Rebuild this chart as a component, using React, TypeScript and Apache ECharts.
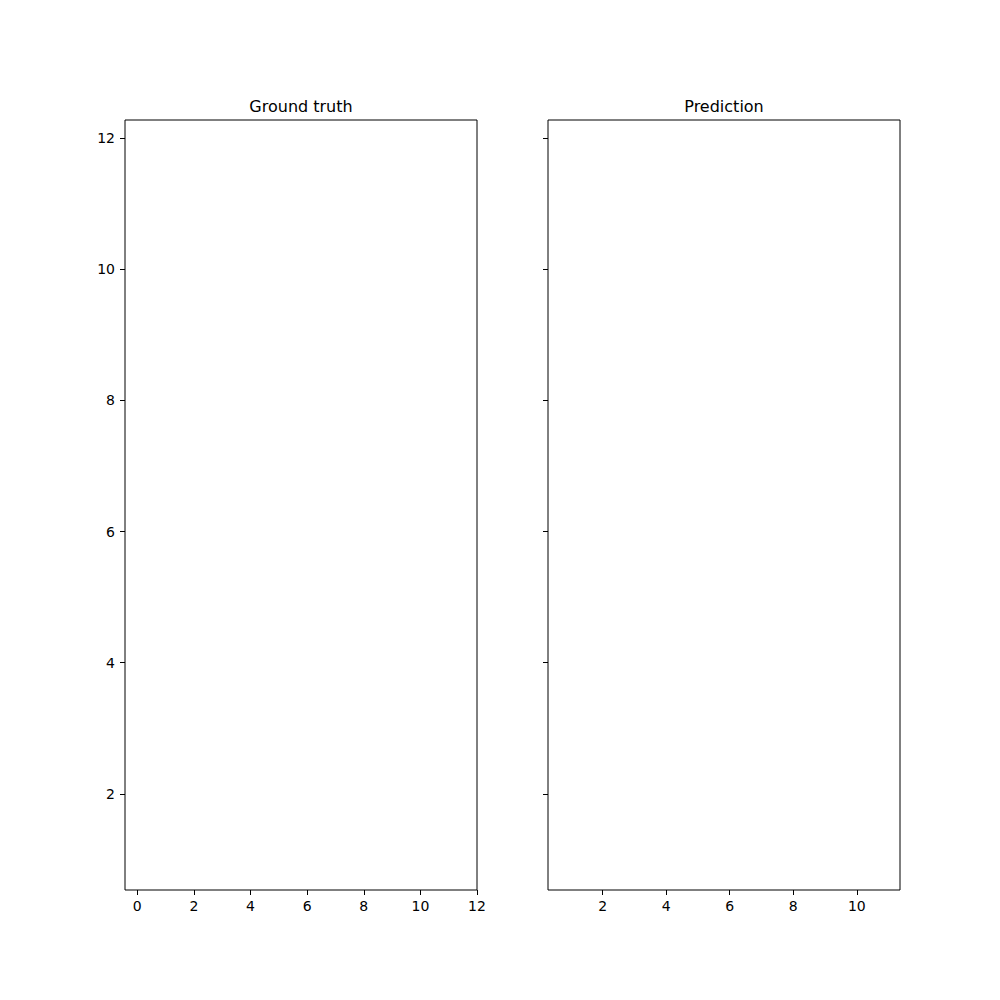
import React, { useEffect, useRef } from "react";
import * as echarts from "echarts";

const leftXTicks = [0, 2, 4, 6, 8, 10, 12];
const rightXTicks = [2, 4, 6, 8, 10];
const yTicks = [2, 4, 6, 8, 10, 12];
const leftXRange = [-0.435, 12];
const rightXRange = [0.28, 11.36];
const yRange = [0.535, 12.275];
const titles = ["Ground truth", "Prediction"];
const groundTruthPoints: number[][] = [];
const predictionPoints: number[][] = [];

const FONT = "DejaVu Sans";

function xAxis(gridIndex: number, range: number[], ticks: number[]) {
  return {
    type: "value",
    gridIndex,
    min: range[0],
    max: range[1],
    splitLine: { show: false },
    axisLine: { show: false, onZero: false },
    axisTick: {
      show: true,
      length: 5,
      inside: false,
      customValues: ticks,
      lineStyle: { color: "#000", width: 1 },
    },
    axisLabel: {
      show: true,
      customValues: ticks,
      margin: 9,
      color: "#000",
      fontFamily: FONT,
      fontSize: 14,
    },
  };
}

function yAxis(gridIndex: number, showLabels: boolean) {
  return {
    type: "value",
    gridIndex,
    min: yRange[0],
    max: yRange[1],
    splitLine: { show: false },
    axisLine: { show: false, onZero: false },
    axisTick: {
      show: true,
      length: 5,
      inside: false,
      customValues: yTicks,
      lineStyle: { color: "#000", width: 1 },
    },
    axisLabel: {
      show: showLabels,
      customValues: yTicks,
      margin: 10,
      color: "#000",
      fontFamily: FONT,
      fontSize: 14,
    },
  };
}

export default function App() {
  const ref = useRef<HTMLDivElement>(null);
  useEffect(() => {
    if (!ref.current) return;
    const chart = echarts.init(ref.current, undefined, { renderer: "svg" });
    chart.setOption({
      animation: false,
      backgroundColor: "#fff",
      grid: [
        { left: 125, top: 120, width: 352, height: 770, show: true, borderColor: "#000", borderWidth: 1, backgroundColor: "transparent" },
        { left: 548, top: 120, width: 352, height: 770, show: true, borderColor: "#000", borderWidth: 1, backgroundColor: "transparent" },
      ],
      xAxis: [xAxis(0, leftXRange, leftXTicks), xAxis(1, rightXRange, rightXTicks)],
      yAxis: [yAxis(0, true), yAxis(1, false)],
      graphic: [
        {
          type: "text",
          x: 301,
          y: 114,
          style: { text: titles[0], textAlign: "center", textVerticalAlign: "bottom", fontFamily: FONT, fontSize: 16, fill: "#000" },
        },
        {
          type: "text",
          x: 724,
          y: 114,
          style: { text: titles[1], textAlign: "center", textVerticalAlign: "bottom", fontFamily: FONT, fontSize: 16, fill: "#000" },
        },
      ],
      series: [
        { type: "scatter", xAxisIndex: 0, yAxisIndex: 0, data: groundTruthPoints },
        { type: "scatter", xAxisIndex: 1, yAxisIndex: 1, data: predictionPoints },
      ],
    });
    return () => chart.dispose();
  }, []);
  return (
    <div
      ref={ref}
      style={{ position: "absolute", left: 0, top: 0, width: 1000, height: 1000 }}
    />
  );
}
